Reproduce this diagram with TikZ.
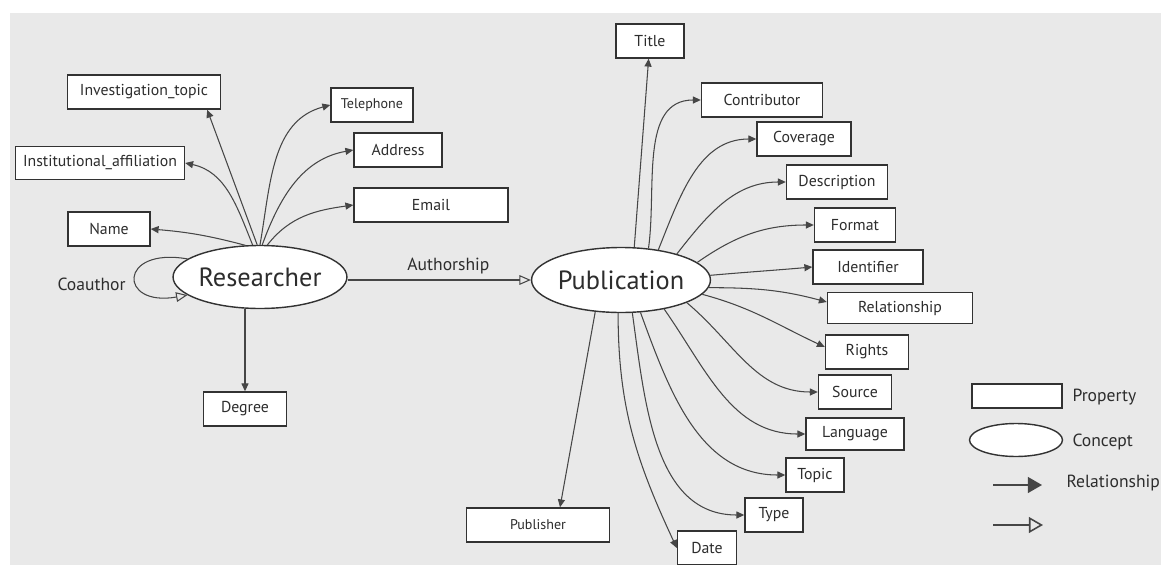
\documentclass[tikz,border=0pt]{standalone}
\usepackage{fontspec}
\setmainfont{PT Sans}
\usepackage{xcolor}
\usepackage{tikz}
\usetikzlibrary{arrows.meta,shapes.geometric,positioning}

\definecolor{bgcol}{RGB}{233,233,233}
\definecolor{linecol}{RGB}{70,70,70}
\definecolor{boxcol}{RGB}{50,50,50}
\definecolor{txtcol}{RGB}{45,45,45}

\begin{document}
\begin{tikzpicture}[->, >={Triangle[length=4.5pt,width=4pt]}, x=0.02cm, y=-0.02cm,
    line width=0.6pt, draw=linecol, text=txtcol]
      \tikzstyle{prop}=[draw=boxcol, fill=white, line width=0.8pt, minimum height=0.68cm,
        minimum width=#1, inner sep=1pt, font=\fontsize{9}{10}\selectfont]
      \tikzstyle{concept}=[ellipse, draw=boxcol, fill=white, line width=0.8pt, inner sep=0pt,
        font=\fontsize{15}{18}\selectfont]
      \tikzstyle{small}=[font=\fontsize{8}{9}\selectfont]
      \tikzstyle{open}=[-{Triangle[open,length=6.5pt,width=5.5pt]}]

      \useasboundingbox (0,0) rectangle (1161,565);
      \fill[bgcol] (10,13) rectangle (1161,565);

      % researcher side
      \node[concept, minimum width=3.42cm, minimum height=1.26cm] (R) at (260,277) {Researcher};
      \node[prop=3.06cm] (inv) at (144,92) {Investigation\_topic};
      \node[prop=3.38cm, minimum height=0.66cm] (inst) at (100,163) {Institutional\_affiliation};
      \node[prop=1.64cm] (name) at (109,229) {Name};
      \node[prop=1.64cm, small] (tel) at (372,105) {Telephone};
      \node[prop=1.76cm] (addr) at (398,150) {Address};
      \node[prop=3.08cm] (email) at (431,205) {Email};
      \node[prop=1.66cm] (deg) at (245,409) {Degree};

      \path (R.115) edge [bend right=5] (name.east);
      \path (R.103) edge [out=112, in=-12] (inst.east);
      \path (R.95) edge ([xshift=-0.28cm]inv.south east);
      \path (R.90) edge [out=80, in=195] (tel.west);
      \path (R.86) edge [out=70, in=190] (addr.west);
      \path (R.77) edge [out=52, in=188] (email.west);
      \path (R.south -| deg) edge (deg);
      \path (R.166) edge [out=170, in=190, looseness=5, open]
        node[left, xshift=-2pt, yshift=-4pt] (coauth) {Coauthor} (R.194);

      % publication side
      \node[concept, minimum width=3.54cm, minimum height=1.3cm] (P) at (621,280) {Publication};
      \path (R.east |- P.west) edge [open] node[above, pos=0.55] (authlbl) {Authorship} (P.west);

      \node[prop=1.36cm] (title) at (650,41) {Title};
      \node[prop=2.42cm] (contrib) at (762,100) {Contributor};
      \node[prop=1.88cm] (cov) at (804,139) {Coverage};
      \node[prop=2.02cm] (desc) at (837,182) {Description};
      \node[prop=1.62cm] (fmt) at (855,225) {Format};
      \node[prop=2.2cm] (ident) at (868,267) {Identifier};
      \node[prop=2.9cm, minimum height=0.62cm] (rel) at (900,308) {Relationship};
      \node[prop=1.66cm] (rights) at (867,352) {Rights};
      \node[prop=1.46cm] (source) at (855,392) {Source};
      \node[prop=1.96cm, minimum height=0.64cm] (lang) at (855,434) {Language};
      \node[prop=1.16cm] (topic) at (815,475) {Topic};
      \node[prop=1.16cm] (type) at (774,515) {Type};
      \node[prop=1.18cm] (date) at (707,548) {Date};
      \node[prop=2.86cm, small] (pub) at (538,525) {Publisher};

      \path (P.68) edge (title);
      \path (P.49) edge [out=82, in=180] (contrib.west);
      \path (P.39) edge [out=68, in=180] (cov.west);
      \path (P.25) edge [out=52, in=180] (desc.west);
      \path (P.13) edge [out=35, in=180] (fmt.west);
      \path (P.3) edge [out=5, in=185] (ident.west);
      \path (P.-5) edge [out=0, in=165] ([yshift=0.12cm]rel.west);
      \path (P.-10) edge [out=-15, in=155] ([yshift=0.1cm]rights.west);
      \path (P.-19) edge [out=-40, in=180] (source.west);
      \path (P.-34) edge [out=-55, in=180] (lang.west);
      \path (P.-59) edge [out=-70, in=180] (topic.west);
      \path (P.-71) edge [out=-82, in=180] (type.west);
      \path (P.-95) edge [out=-90, in=115] (date.west);
      \path (P.-129) edge ([xshift=0.44cm]pub.north);

      % legend
      \node[prop=1.8cm, minimum height=0.48cm] (lprop) at (1017,396) {};
      \node[right, inner sep=0pt] (lproptxt) at (1072,397) {Property};
      \node[concept, minimum width=1.86cm, minimum height=0.66cm] (lcon) at (1016,440) {};
      \node[right, inner sep=0pt] (lcontxt) at (1072,442) {Concept};
      \coordinate (la1) at (993,485);
      \coordinate (la2) at (1042,485);
      \coordinate (lb1) at (993,525);
      \coordinate (lb2) at (1043,525);
      \draw[-{Triangle[length=8pt,width=9pt]}, line width=0.9pt] (la1) -- (la2);
      \draw[-{Triangle[open,length=8pt,width=9pt]}, line width=0.9pt] (lb1) -- (lb2);
      \node[right, inner sep=0pt] (lreltxt) at (1066,483) {Relationship};

      \end{tikzpicture}
\end{document}
